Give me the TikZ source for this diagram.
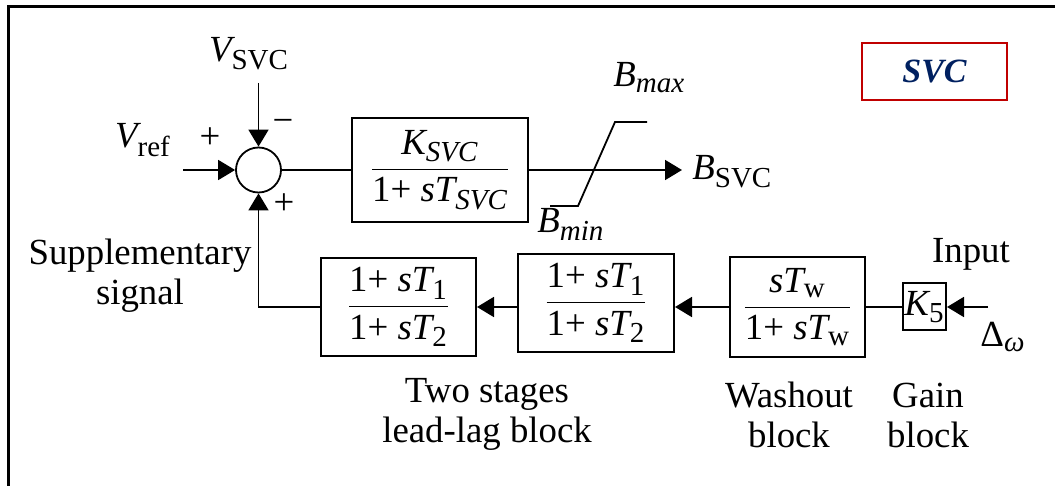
\documentclass[tikz,border=0pt]{standalone}
\usepackage{amsmath}
\usepackage{fontspec}
\setmainfont{Liberation Serif}
\usetikzlibrary{arrows.meta,calc}
\DeclareMathSizes{18.4}{18.4}{14.5}{11}
\newcommand{\mi}[1]{\text{\itshape #1}}
\newcommand{\mr}[1]{\text{\upshape #1}}
\definecolor{svcred}{RGB}{192,0,0}
\definecolor{svcblue}{RGB}{0,32,96}
\tikzset{block/.style={draw,line width=1pt,inner sep=0pt}}
\tikzset{sig/.style={line width=0.9pt}}
\tikzset{tag/.style={anchor=base west,inner sep=0pt}}

\begin{document}
\begin{tikzpicture}[x=0.5pt,y=-0.5pt,>={Triangle[length=8.5pt,width=10pt]},font=\fontsize{18.4}{20}\selectfont]
	\useasboundingbox (0,0) rectangle (1055,486);
	\draw[line width=1.5pt] (8,486) -- (8,7) -- (1055,7);
	%%
	\node[draw,circle,sig,minimum size=22.5pt,inner sep=0pt] (sum) at (258.5,170) {};
	\node[block,minimum width=88pt,minimum height=52pt] (ksvc) at (440,170) {$\dfrac{\mi{K}_{\mi{SVC}}}{\mr{1+ }\mi{sT}_{\mi{SVC}}}$};
	\node[block,minimum width=77.5pt,minimum height=49pt] (lead1) at (398.5,307) {$\dfrac{\mr{1+ }\mi{sT}_{\mr{1}}}{\mr{1+ }\mi{sT}_{\mr{2}}}$};
	\node[block,minimum width=78pt,minimum height=49pt] (lead2) at (596,303) {$\dfrac{\mr{1+ }\mi{sT}_{\mr{1}}}{\mr{1+ }\mi{sT}_{\mr{2}}}$};
	\node[block,minimum width=67.5pt,minimum height=50pt] (washout) at (797.5,307) {$\dfrac{\mi{sT}_{\mr{w}}}{\mr{1+ }\mi{sT}_{\mr{w}}}$};
	\node[block,minimum width=21.5pt,minimum height=23.5pt] (gain) at (924.5,307) {$\mi{K}_{\mr{5}}$};
	\node[draw=svcred,line width=1pt,minimum width=72.5pt,minimum height=28.5pt,text=svcblue,font=\fontsize{17}{20}\selectfont\bfseries\itshape] (svc) at (934.5,71.5) {SVC};
	%%
	\coordinate (vtop) at (258.5,83);
	\coordinate (vin) at (183,170);
	\coordinate (bout) at (682,170);
	\coordinate (dw) at (988,307);
	\draw[sig,->] (vtop) -- (sum.north);
	\draw[sig,->] (vin) -- (sum.west);
	\draw[sig] (sum.east) -- (ksvc.west);
	\draw[sig,->] (ksvc.east) -- (bout);
	\draw[sig] (550,206) -- (578,206) -- (615,122) -- (647,122);
	\draw[sig,->] (dw) -- (gain.east);
	\draw[sig] (gain.west) -- (washout.east);
	\draw[sig,->] (washout.west) -- (lead2.east |- washout.west);
	\draw[sig,->] (lead2.west |- lead1.east) -- (lead1.east);
	\draw[sig,->] (lead1.west) -| (sum.south);
	%%
	\node[anchor=base] (vsvc) at (249,62) {$\mi{V}_{\mr{SVC}}$};
	\node[anchor=base] (vref) at (143,148) {$\mi{V}_{\mr{ref}}$};
	\node (pref) at (210,138) {+};
	\node (mfb) at (283,126) {−};
	\node (psup) at (284,204) {+};
	\node[tag] (bsvc) at (692,180) {$\mi{B}_{\mr{SVC}}$};
	\node[tag] (bmax) at (613,87) {$\mi{B}_{\mi{max}}$};
	\node[tag] (bmin) at (537,233) {$\mi{B}_{\mi{min}}$};
	\node[align=center] (supp) at (140,276) {Supplementary\\signal};
	\node[align=center] (leadlbl) at (487,414) {Two stages\\lead-lag block};
	\node[align=center] (washlbl) at (789,415) {Washout\\block};
	\node[align=center] (gainlbl) at (928,415) {Gain\\block};
	\node[anchor=base] (inlbl) at (971,263) {Input};
	\node[tag] (dwlbl) at (980,346) {$\text{Δ}_{\mi{ω}}$};

\end{tikzpicture}
\end{document}
